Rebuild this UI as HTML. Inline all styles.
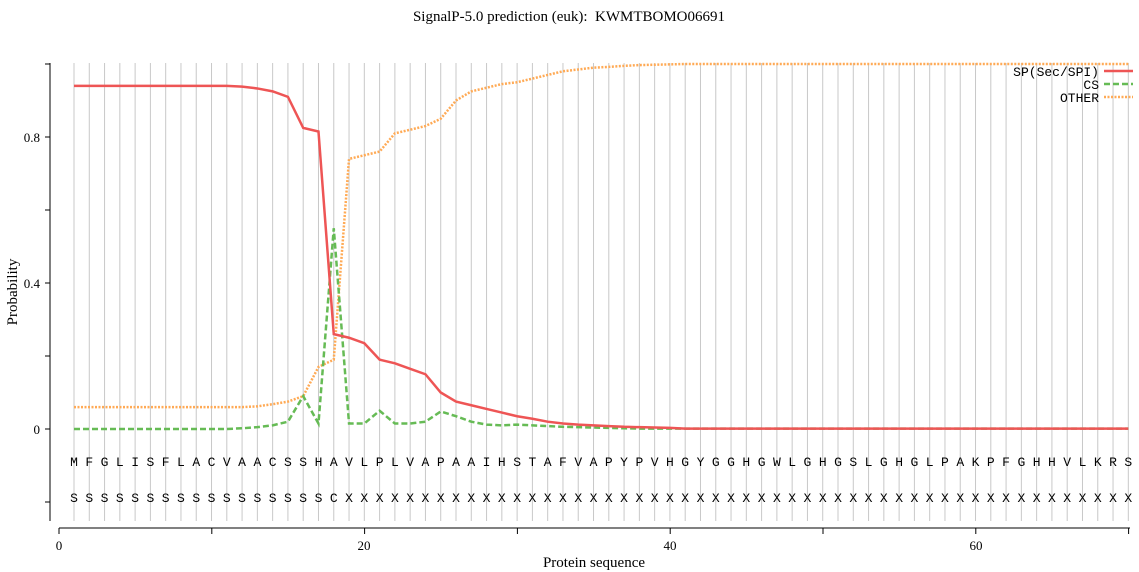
<!DOCTYPE html>
<html><head><meta charset="utf-8"><style>
body{margin:0;background:#fff;}
svg{display:block;font-family:"Liberation Serif",serif;}
.mono{font-family:"Liberation Mono",monospace;font-size:13px;}
</style></head><body>
<svg id="s" width="1139" height="572" xmlns="http://www.w3.org/2000/svg">
<text x="569" y="21" text-anchor="middle" font-size="15" xml:space="preserve">SignalP-5.0 prediction (euk):  KWMTBOMO06691</text>
<g id="grid"></g>
<line x1="50" y1="63" x2="50" y2="521" stroke="#000" stroke-width="1"/>
<line x1="59" y1="528" x2="1130" y2="528" stroke="#000" stroke-width="1"/>
<g id="ticks" stroke="#000"></g>
<g font-size="13" text-anchor="end">
<text x="40" y="434">0</text><text x="40" y="288">0.4</text><text x="40" y="142">0.8</text>
</g>
<g font-size="13" text-anchor="middle">
<text x="59" y="550">0</text><text x="364" y="550">20</text><text x="670" y="550">40</text><text x="976" y="550">60</text>
</g>
<text x="594" y="567" text-anchor="middle" font-size="15">Protein sequence</text>
<text transform="translate(17,292) rotate(-90)" text-anchor="middle" font-size="15">Probability</text>
<g id="seq" class="mono" text-anchor="middle"></g>
<g id="lines" fill="none"></g>
<g class="mono" text-anchor="end">
<text x="1099" y="76">SP(Sec/SPI)</text><text x="1099" y="89">CS</text><text x="1099" y="102">OTHER</text>
</g>
<line x1="1104" y1="71" x2="1133" y2="71" stroke="#ee5555" stroke-width="2.5"/>
<line x1="1104" y1="84" x2="1133" y2="84" stroke="#66bb55" stroke-width="2.5" stroke-dasharray="6,3"/>
<line x1="1104" y1="97" x2="1133" y2="97" stroke="#ffaa55" stroke-width="2.5" stroke-dasharray="2,1.5"/>
</svg>
<script>
var NS="http://www.w3.org/2000/svg";
function X(i){return 74+(i-1)*15.28;}
function Y(v){return 429-365*v;}
function el(p,t,a,txt){var e=document.createElementNS(NS,t);for(var k in a)e.setAttribute(k,a[k]);if(txt!=null)e.textContent=txt;document.getElementById(p).appendChild(e);}
var seq="MFGLISFLACVAACSSHAVLPLVAPAAIHSTAFVAPYPVHGYGGHGWLGHGSLGHGLPAKPFGHHVLKRS";
var lab="SSSSSSSSSSSSSSSSSC"+"X".repeat(52);
for(var i=1;i<=70;i++){
 el("grid","line",{x1:X(i),x2:X(i),y1:63,y2:521,stroke:"#c8c8c8","stroke-width":1});
 el("seq","text",{x:X(i),y:466},seq[i-1]);
 el("seq","text",{x:X(i),y:502},lab[i-1]);
}
[0.2,0.6,1.0,-0.2,0,0.4,0.8].forEach(function(v){el("ticks","line",{x1:45,x2:50,y1:Y(v),y2:Y(v)});});
for(var t=0;t<=70;t+=10){var x=59+t*15.28;el("ticks","line",{x1:x,x2:x,y1:528,y2:534});}
var sp=[.94,.94,.94,.94,.94,.94,.94,.94,.94,.94,.94,.938,.933,.925,.91,.825,.815,.26,.25,.235,.19,.18,.165,.15,.1,.075,.065,.055,.045,.035,.028,.02,.015,.012,.01,.008,.006,.005,.004,.003];
var cs=[0,0,0,0,0,0,0,0,0,0,0,.002,.005,.01,.02,.09,.015,.55,.015,.015,.05,.015,.015,.02,.048,.035,.02,.012,.01,.012,.01,.008,.006,.005,.004,.003,.002];
var ot=[.06,.06,.06,.06,.06,.06,.06,.06,.06,.06,.06,.06,.062,.068,.075,.09,.17,.19,.74,.75,.76,.81,.82,.83,.85,.9,.925,.935,.945,.95,.96,.97,.98,.985,.99,.992,.995,.997,.998,.999];
function pts(a,fill){var s=[];for(var i=1;i<=70;i++){var v=i<=a.length?a[i-1]:fill;s.push(X(i)+","+Y(v));}return s.join(" ");}
el("lines","polyline",{points:pts(ot,1.0),stroke:"#ffaa55","stroke-width":2.5,"stroke-dasharray":"2,1.5"});
el("lines","polyline",{points:pts(cs,.001),stroke:"#66bb55","stroke-width":2.5,"stroke-dasharray":"6,3"});
el("lines","polyline",{points:pts(sp,.001),stroke:"#ee5555","stroke-width":2.5});
</script>
</body></html>
